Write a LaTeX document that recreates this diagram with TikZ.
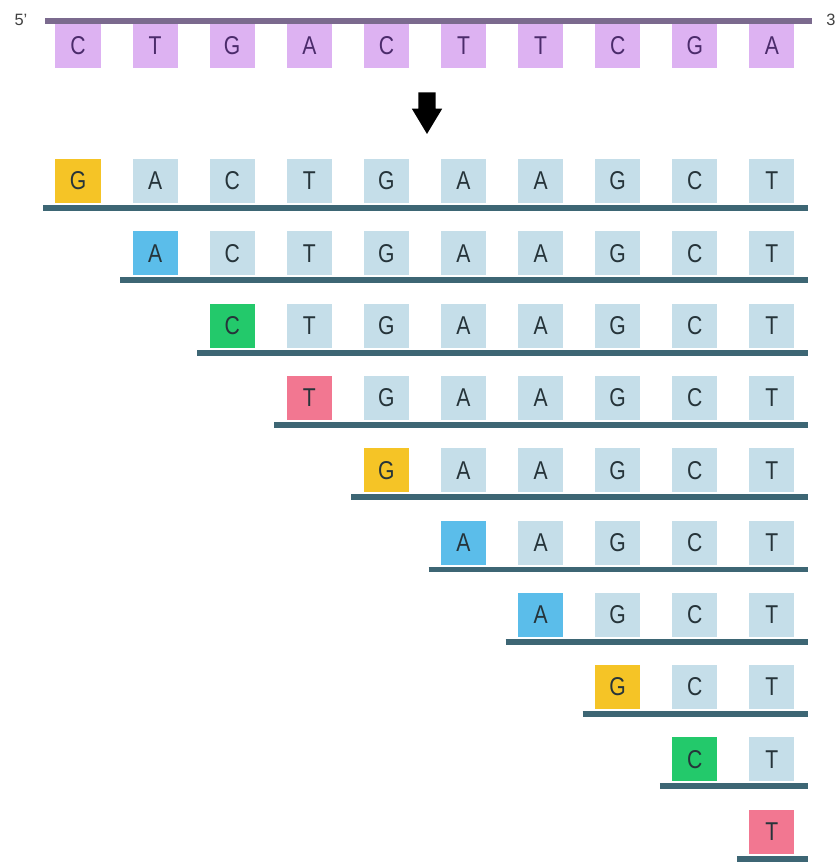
\documentclass[tikz,border=0pt]{standalone}
\usepackage{fontspec}
\setmainfont{Liberation Sans}
\newfontfamily\basefont[FakeStretch=0.82]{Liberation Sans}
\usetikzlibrary{shapes.arrows}

\definecolor{tmplfill}{HTML}{DDB2F2}
\definecolor{tmpltext}{HTML}{4B2B6B}
\definecolor{tmplline}{HTML}{7B6A8E}
\definecolor{oldfill}{HTML}{C5DEE9}
\definecolor{basetext}{HTML}{26343A}
\definecolor{strandcol}{HTML}{3D6674}
\definecolor{ntG}{HTML}{F5C426}
\definecolor{ntA}{HTML}{5BBDEA}
\definecolor{ntC}{HTML}{23C96B}
\definecolor{ntT}{HTML}{F27791}

\begin{document}
\begin{tikzpicture}[x=0.03cm, y=-0.03cm,
  base/.style={rectangle, minimum width=1.35cm, minimum height=1.32cm, inner sep=0pt, font=\basefont\fontsize{22}{22}\selectfont},
  tmpl/.style={base, fill=tmplfill, text=tmpltext},
  old/.style={base, fill=oldfill, text=basetext},
  nt G/.style={base, fill=ntG, text=basetext},
  nt A/.style={base, fill=ntA, text=basetext},
  nt C/.style={base, fill=ntC, text=basetext},
  nt T/.style={base, fill=ntT, text=basetext},
  strand/.style={line width=5.1pt, strandcol},
  end/.style={font=\fontsize{14}{14}\selectfont, text=black!75},
]
\useasboundingbox (0,0) rectangle (836,864);

% === TEMPLATE STRAND ===
\coordinate (t5) at (45,21);
\coordinate (t3) at (812,21);
\draw[line width=4.3pt, tmplline] (t5) -- (t3);
\node[end] (p5) at (21,20) {5'};
\node[end] (p3) at (831,20) {3};
\foreach \b [count=\i from 0] in {C,T,G,A,C,T,T,C,G,A}
  \node[tmpl] (top\i) at ({78+77.1*\i}, 46) {\b};

% === ARROW ===
\node[single arrow, fill=black, rotate=-90, minimum height=1.25cm, inner sep=0.25cm,
  single arrow head extend=0.2cm, single arrow tip angle=62] (arr) at (427,106) {};

% === FRAGMENTS ===
\foreach \k in {0,...,9} {
  \coordinate (s\k) at ({78+77.1*\k-35}, {208+72.3*\k});
  \coordinate (e\k) at (808, {208+72.3*\k});
  \draw[strand] (s\k) -- (e\k);
  \foreach \b [count=\i from 0] in {G,A,C,T,G,A,A,G,C,T} {
    \ifnum\i=\k
      \node[nt \b] (b\k-\i) at ({78+77.1*\i}, {181+72.3*\k}) {\b};
    \fi
    \ifnum\i>\k
      \node[old] (b\k-\i) at ({78+77.1*\i}, {181+72.3*\k}) {\b};
    \fi
  }
}
\end{tikzpicture}
\end{document}
